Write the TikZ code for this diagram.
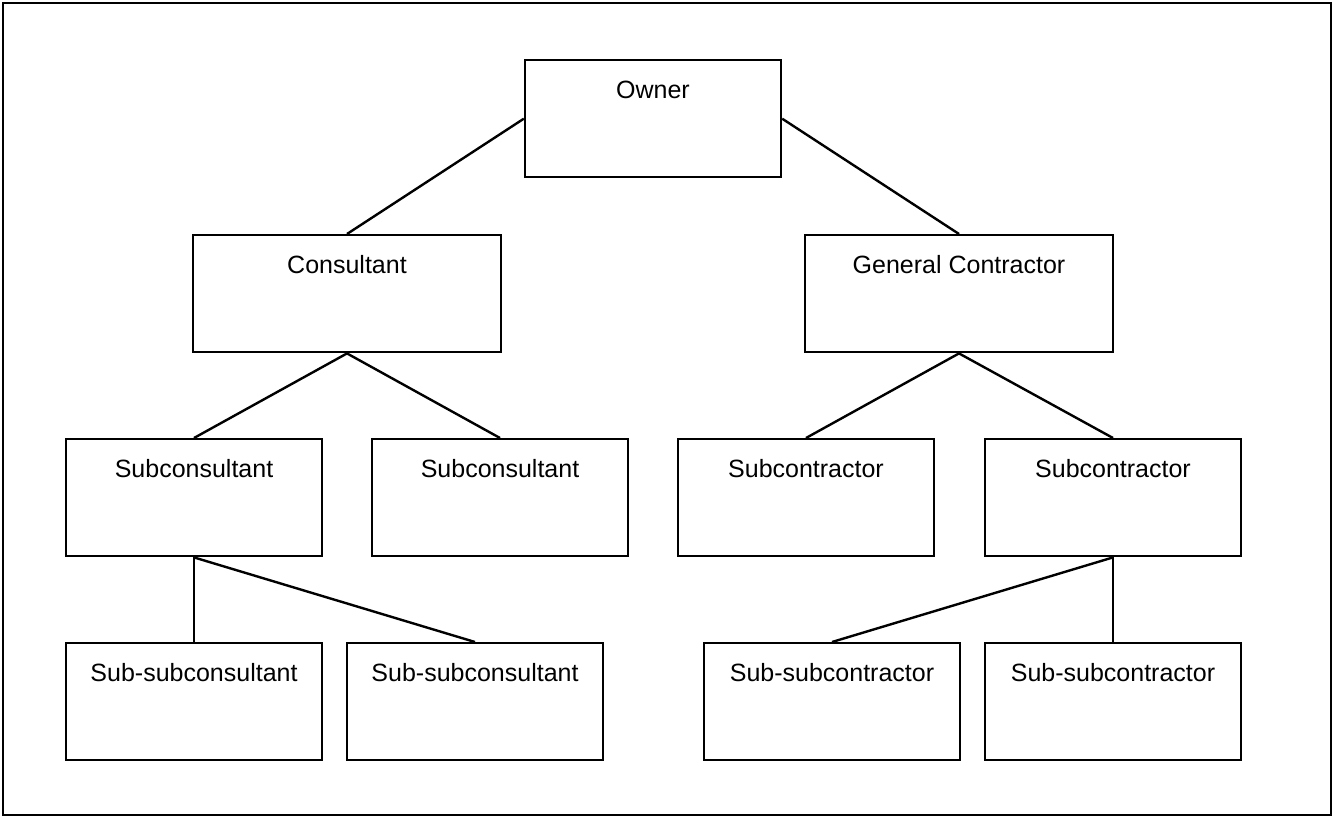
\documentclass[tikz,border=0pt]{standalone}
\usepackage{fontspec}
\setmainfont{Liberation Sans}
\usepackage{tikz}
\usetikzlibrary{positioning}
\tikzstyle{party} = [draw, line width = 2.4pt, inner sep = 0, text height = 38pt, text depth = 79pt, anchor = north, minimum width = 256pt, font = \fontsize{25}{30}\selectfont]
\tikzstyle{wide party} = [party, minimum width = 308pt]
\tikzstyle{link} = [line width = 2.4pt]
\tikzstyle{chart picture} = [x = 1pt, y = -1pt]

\begin{document}
\begin{tikzpicture}[chart picture]
            \useasboundingbox (0, 0) rectangle (1333, 817);
            \draw [line width = 2.4pt] (3, 3) rectangle (1331, 815);
            \node [party] (owner) at (653, 59) {Owner};
            \node [wide party] (consultant) at (347, 234) {Consultant};
            \node [wide party] (contractor) at (959, 234) {General Contractor};
            \node [party] (subcons1) at (194, 438) {Subconsultant};
            \node [party] (subcons2) at (500, 438) {Subconsultant};
            \node [party] (subcont1) at (806, 438) {Subcontractor};
            \node [party] (subcont2) at (1113, 438) {Subcontractor};
            \node [party] (subsubcons1) at (194, 642) {Sub-subconsultant};
            \node [party] (subsubcons2) at (475, 642) {Sub-subconsultant};
            \node [party] (subsubcont1) at (832, 642) {Sub-subcontractor};
            \node [party] (subsubcont2) at (1113, 642) {Sub-subcontractor};
            \draw [link] (owner.west) -- (consultant.north);
            \draw [link] (owner.east) -- (contractor.north);
            \foreach \x in {1, 2}
            {
                \draw [link] (consultant.south) -- (subcons\x.north);
                \draw [link] (contractor.south) -- (subcont\x.north);
                \draw [link] (subcons1.south) -- (subsubcons\x.north);
                \draw [link] (subcont2.south) -- (subsubcont\x.north);
            }
        \end{tikzpicture}
\end{document}
